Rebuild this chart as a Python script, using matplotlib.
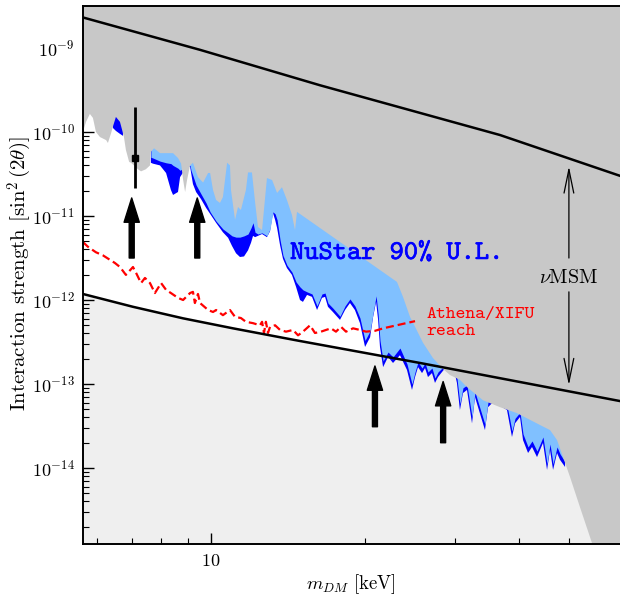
import numpy as np
import matplotlib
matplotlib.use("Agg")
import matplotlib.pyplot as plt
from matplotlib import ticker
import matplotlib.patheffects as pe

plt.rcParams['font.family'] = 'cmr10'
plt.rcParams['mathtext.fontset'] = 'cm'
plt.rcParams['axes.formatter.use_mathtext'] = True

nan = np.nan

# grey region: lower edge of the earlier X-ray limits
xray_m = [5.62, 5.70, 5.80, 5.88, 5.96, 6.07, 6.24, 6.29, 6.38, 6.43, 6.52, 6.64, 6.73, 6.76, 6.82,
          6.92, 6.98, 7.07, 7.20, 7.30, 7.46, 7.60, 7.63, 7.74, 7.95, 8.17, 8.43, 8.62, 8.74, 8.82,
          8.90, 8.98, 9.10, 9.22, 9.43, 9.65, 9.87, 9.96, 10.09, 10.23, 10.41, 10.55, 10.75, 10.89,
          10.94, 11.14, 11.29, 11.44, 11.70, 11.81, 12.02, 12.19, 12.35, 12.58, 12.86, 13.16, 13.46,
          13.76, 14.07, 14.39, 14.59, 14.72, 23.08, 23.71, 24.47, 25.03, 25.94, 27.13, 28.38, 29.29,
          30.63, 31.62, 33.98, 36.68, 39.59, 43.91, 45.93, 47.40, 48.70, 50.26, 52.57, 54.99, 57.52, 63.5]
xray_s = [1.0e-10, 1.32e-10, 1.64e-10, 1.47e-10, 1.0e-10, 8.7e-11, 8.0e-11, 7.4e-11, 9.7e-11, 1.15e-10,
          1.51e-10, 1.32e-10, 9.7e-11, 8.7e-11, 6.1e-11, 4.4e-11, 4.3e-11, 4.0e-11, 3.6e-11, 3.4e-11,
          3.6e-11, 4.0e-11, 5.8e-11, 6.4e-11, 5.6e-11, 5.6e-11, 5.6e-11, 4.9e-11, 4.2e-11, 2.7e-11,
          1.93e-11, 2.7e-11, 4.0e-11, 4.3e-11, 2.9e-11, 2.5e-11, 3.25e-11, 3.25e-11, 2.04e-11, 1.55e-11,
          1.43e-11, 1.68e-11, 4.3e-11, 4.0e-11, 2.04e-11, 9.0e-12, 1.28e-11, 1.18e-11, 2.04e-11, 3.3e-11,
          3.3e-11, 1.47e-11, 7.4e-12, 6.8e-12, 2.83e-11, 2.68e-11, 1.88e-11, 2.2e-11, 1.55e-11, 1.03e-11,
          6.8e-12, 1.12e-11, 1.64e-12, 1.09e-12, 6.3e-13, 4.8e-13, 3.1e-13, 2.04e-13, 1.51e-13, 1.28e-13,
          1.12e-13, 9.2e-14, 6.4e-14, 5.3e-14, 4.5e-14, 3.25e-14, 2.83e-14, 2.15e-14, 1.35e-14, 7.8e-15,
          3.4e-15, 1.5e-15, 6.6e-16, 2.9e-16]

# NuStar 90% U.L. bands (lower edges of the dark and light blue regions)
nustar_m = [6.43, 6.52, 6.64, 6.73, 7.2,
            7.63, 7.70, 7.95, 8.17, 8.35, 8.43, 8.62, 8.70, 8.82, 8.98,
            9.10, 9.14, 9.22, 9.35, 9.56, 9.78, 9.96, 10.23, 10.55, 10.80,
            10.99, 11.19, 11.39, 11.60, 11.81, 11.97, 12.08, 12.19, 12.35, 12.58,
            12.86, 13.04, 13.21, 13.34, 13.46, 13.64, 13.82, 14.07, 14.39, 14.66,
            14.92, 15.12, 15.40, 15.75, 16.11, 16.47, 16.70, 16.92, 17.30, 17.86,
            18.27, 18.68, 19.10, 19.54, 19.99, 20.45, 20.73, 21.01, 21.20, 21.38,
            21.68, 22.17, 22.67, 23.39, 24.14, 24.69, 25.03, 25.37, 25.83, 26.18,
            26.53, 27.01, 27.38, 27.75, 28.26, 28.90, 29.95, 30.22, 30.63, 31.05,
            31.62, 32.34, 32.78, 33.23, 34.28, 34.75, 35.38, 36.68, 37.85, 38.71,
            39.24, 40.13, 40.68, 41.61, 42.36, 43.32, 43.91, 44.50, 45.32, 45.93,
            46.56, 47.40, 48.05, 49.14]
nustar_dark = [1.12e-10, 1.03e-10, 9.5e-11, 9.0e-11, nan,
               4.3e-11, 4.2e-11, 4.0e-11, 3.25e-11, 2.04e-11, 1.78e-11, 1.93e-11, 2.9e-11, 3.3e-11, 3.7e-11,
               3.9e-11, 3.3e-11, 2.4e-11, 1.93e-11, 1.59e-11, 1.25e-11, 1.06e-11, 8.3e-12, 6.4e-12, 5.5e-12,
               4.4e-12, 3.6e-12, 3.25e-12, 3.3e-12, 3.9e-12, 4.8e-12, 5.8e-12, 5.6e-12, 5.8e-12, 6.1e-12,
               5.6e-12, 6.6e-12, 1.09e-11, 9.0e-12, 7.2e-12, 4.5e-12, 3.1e-12, 2.4e-12, 1.99e-12, 1.43e-12,
               1.0e-12, 9.5e-13, 1.15e-12, 1.09e-12, 7.6e-13, 1.06e-12, 1.09e-12, 8.3e-13, 7.2e-13, 5.8e-13,
               7.6e-13, 9.2e-13, 7.6e-13, 5.3e-13, 2.76e-13, 3.6e-13, 6.3e-13, 9.5e-13, 5.8e-13, 2.76e-13,
               1.59e-13, 2.1e-13, 1.78e-13, 2.2e-13, 1.47e-13, 8.5e-14, 1.21e-13, 1.59e-13, 1.35e-13, 1.55e-13,
               1.21e-13, 1.35e-13, 1.03e-13, 1.21e-13, 1.39e-13, 1.64e-13, 1.32e-13, 1.03e-13, 4.9e-14, 7.8e-14,
               8.5e-14, 3.4e-14, 7.0e-14, 5.3e-14, 2.83e-14, 5.3e-14, 5.9e-14, 5.5e-14, 4.9e-14, 2.34e-14,
               3.4e-14, 4.05e-14, 2.15e-14, 1.51e-14, 1.78e-14, 1.35e-14, 1.64e-14, 1.99e-14, 9.5e-15, 1.64e-14,
               9.5e-15, 1.51e-14, 1.25e-14, 1.03e-14]
nustar_light = [nan, nan, nan, nan, nan,
                5.0e-11, 4.9e-11, 4.5e-11, 4.3e-11, 4.2e-11, 4.0e-11, 3.7e-11, 3.5e-11, 3.7e-11, 3.9e-11,
                4.0e-11, 3.5e-11, 3.0e-11, 2.34e-11, 1.83e-11, 1.43e-11, 1.12e-11, 8.7e-12, 7.0e-12, 6.3e-12,
                5.8e-12, 5.6e-12, 5.6e-12, 5.8e-12, 6.1e-12, 7.2e-12, 8.3e-12, 6.4e-12, 6.1e-12, 6.3e-12,
                5.8e-12, 7.0e-12, 1.12e-11, 1.06e-11, 9.0e-12, 5.2e-12, 3.4e-12, 2.6e-12, 2.15e-12, 1.64e-12,
                1.43e-12, 1.32e-12, 1.25e-12, 1.18e-12, 8.5e-13, 1.18e-12, 1.21e-12, 9.2e-13, 8.0e-13, 6.4e-13,
                8.5e-13, 1.03e-12, 8.5e-13, 6.1e-13, 3.3e-13, 4.3e-13, 7.0e-13, 1.12e-12, 6.8e-13, 3.3e-13,
                1.88e-13, 2.4e-13, 2.1e-13, 2.68e-13, 1.73e-13, 1.0e-13, 1.39e-13, 1.83e-13, 1.55e-13, 1.78e-13,
                1.39e-13, 1.55e-13, 1.18e-13, 1.39e-13, 1.55e-13, 1.68e-13, 1.39e-13, 1.18e-13, 5.8e-14, 9.0e-14,
                9.7e-14, 4.05e-14, 8.0e-14, 6.1e-14, 3.3e-14, 6.1e-14, 6.6e-14, 5.8e-14, 5.6e-14, 2.76e-14,
                3.9e-14, 4.6e-14, 2.54e-14, 1.78e-14, 2.1e-14, 1.59e-14, 1.93e-14, 2.34e-14, 1.12e-14, 1.93e-14,
                1.12e-14, 1.78e-14, 1.47e-14, 1.18e-14]

# Athena/XIFU reach
athena_m = [5.62, 5.75, 5.96, 6.15, 6.49, 6.64, 6.82, 7.04, 7.14, 7.30, 7.43, 7.60, 7.77, 7.99, 8.17,
            8.35, 8.62, 8.82, 9.10, 9.22, 9.30, 9.43, 9.52, 9.87, 10.09, 10.23, 10.55, 10.89, 11.14,
            11.44, 11.70, 12.08, 12.46, 12.58, 12.69, 12.80, 12.92, 13.04, 13.34, 13.64, 14.01, 14.46,
            14.79, 15.12, 15.61, 15.96, 16.40, 16.77, 17.15, 17.54, 17.94, 18.35, 18.94, 19.54, 20.08,
            20.91, 21.68, 25.03]
athena_s = [4.9e-12, 4.3e-12, 3.7e-12, 3.4e-12, 2.76e-12, 2.47e-12, 1.99e-12, 2.47e-12, 2.1e-12, 1.59e-12,
            1.83e-12, 1.59e-12, 1.21e-12, 1.59e-12, 1.32e-12, 1.21e-12, 1.06e-12, 1.0e-12, 1.21e-12, 1.25e-12,
            9.2e-13, 1.18e-12, 9.2e-13, 7.6e-13, 7.2e-13, 7.6e-13, 6.6e-13, 7.6e-13, 6.3e-13,
            6.1e-13, 5.5e-13, 5.3e-13, 5.0e-13, 5.5e-13, 4.05e-13, 5.5e-13, 4.05e-13, 4.8e-13, 5.0e-13,
            4.4e-13, 4.2e-13, 4.4e-13, 3.8e-13, 4.2e-13, 5.0e-13, 4.05e-13, 4.2e-13, 4.4e-13, 4.6e-13,
            4.2e-13, 4.8e-13, 4.2e-13, 4.6e-13, 4.4e-13, 4.2e-13, 4.3e-13, 4.6e-13, 5.6e-13]

# nuMSM bounds
numsm_hi_m = [5.62, 9.52, 16.32, 36.68, 63.5]
numsm_hi_s = [2.31e-9, 9.5e-10, 3.6e-10, 9.2e-11, 2.95e-11]
numsm_lo_m = [5.62, 7.04, 8.82, 11.04, 14.92, 25.6, 63.5]
numsm_lo_s = [1.18e-12, 8.3e-13, 6.05e-13, 4.6e-13, 3.25e-13, 1.78e-13, 6.2e-14]

# candidate lines (arrows) and the 3.5 keV point
arrow_m = [7.0, 9.4, 20.9, 28.4]
arrow_tail = [3.16e-12, 3.16e-12, 3.1e-14, 2.0e-14]
arrow_head = [1.64e-11, 1.64e-11, 1.64e-13, 1.07e-13]
line35_m = 7.1
line35_s = 4.9e-11
line35_lo = 2.15e-11
line35_hi = 2.0e-10

fig = plt.figure(figsize=(6.2, 5.97), dpi=100)
ax = fig.add_axes([83/620, 1 - 544.3/597, 538/620, 538.3/597])
ax.set_xscale('log')
ax.set_yscale('log')
ax.set_xlim(5.623, 63.2)
ax.set_ylim(1.236e-15, 3.16e-9)

top = 1e-8
ax.fill_between(numsm_lo_m, 1e-17, numsm_lo_s, color='#efefef', lw=0, zorder=1)
ax.fill_between(nustar_m, nustar_dark, top, color='#0000ff', lw=0, zorder=2)
ax.fill_between(nustar_m, nustar_light, top, color='#80c0ff', lw=0, zorder=2.1)
ax.fill_between(xray_m, xray_s, top, color='#c8c8c8', lw=0, zorder=2.2)

ax.plot(athena_m, athena_s, color='red', lw=1.6, dashes=(3.6, 1.8), zorder=3)
ax.plot(numsm_hi_m, numsm_hi_s, color='k', lw=1.8, zorder=3)
ax.plot(numsm_lo_m, numsm_lo_s, color='k', lw=1.8, zorder=3)

for m, t, h in zip(arrow_m, arrow_tail, arrow_head):
    ax.annotate('', xy=(m, h), xytext=(m, t),
                arrowprops=dict(arrowstyle='simple,head_length=1.75,head_width=1.1,tail_width=0.36',
                                color='k', mutation_scale=10, shrinkA=0, shrinkB=0), zorder=4)

ax.errorbar([line35_m], [line35_s], yerr=[[line35_s - line35_lo], [line35_hi - line35_s]],
            fmt='s', color='k', ms=4.5, elinewidth=2, capsize=0, zorder=4)

# nuMSM double arrow
msm_props = dict(arrowstyle='->,head_length=1.7,head_width=0.35', lw=0.9, color='k',
                 mutation_scale=10, shrinkA=0, shrinkB=0)
ax.annotate('', xy=(50, 3.9e-11), xytext=(50, 3.16e-12), arrowprops=msm_props, zorder=4)
ax.annotate('', xy=(50, 9.7e-14), xytext=(50, 1.25e-12), arrowprops=msm_props, zorder=4)
ax.text(50, 1.83e-12, r'$\nu$MSM', ha='center', va='center', fontsize=14.5, zorder=5)

ax.text(14.27, 3.08e-12, 'NuStar 90% U.L.', family='cmtt10', fontsize=19.5, color='blue',
        va='baseline', ha='left', zorder=5,
        path_effects=[pe.withStroke(linewidth=0.45, foreground='blue')])
ax.text(26.4, 6.1e-13, 'Athena/XIFU', family='cmtt10', fontsize=13.5, color='red',
        va='baseline', ha='left', zorder=5)
ax.text(26.4, 3.83e-13, 'reach', family='cmtt10', fontsize=13.5, color='red',
        va='baseline', ha='left', zorder=5)

ax.xaxis.set_major_locator(ticker.FixedLocator([10]))
ax.xaxis.set_major_formatter(ticker.ScalarFormatter())
ax.xaxis.set_minor_locator(ticker.LogLocator(base=10, subs=np.arange(2, 10)))
ax.xaxis.set_minor_formatter(ticker.NullFormatter())
ax.yaxis.set_minor_formatter(ticker.NullFormatter())
ax.tick_params(which='both', direction='in', top=True, right=True, labelsize=13)
ax.tick_params(which='major', length=8, width=1.0, pad=6)
ax.tick_params(which='minor', length=4.5, width=0.8)
for s in ax.spines.values():
    s.set_linewidth(1.4)
    s.set_zorder(6)

fig.text(20/620, 1 - 274/597, r'Interaction strength $[\sin^2(2\theta)]$', rotation=90,
         ha='center', va='center', fontsize=15)
fig.text(351/620, 1 - 584/597, r'$m_{DM}$ [keV]', ha='center', va='center', fontsize=13.5)

fig.savefig('out.png', dpi=100)
